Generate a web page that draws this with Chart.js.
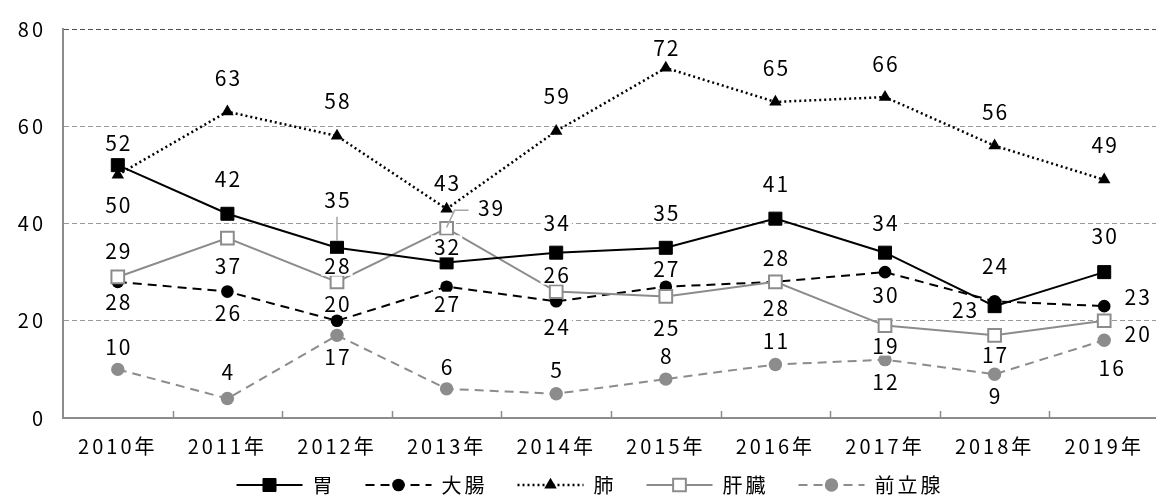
<!DOCTYPE html>
<html lang="ja">
<head>
<meta charset="utf-8">
<title>部位別</title>
<script src="https://cdn.jsdelivr.net/npm/chart.js@4.4.1/dist/chart.umd.min.js"></script>
<style>
  html, body { margin: 0; padding: 0; background: #fff; overflow: hidden; }
  #wrap { width: 1170px; height: 497px; }
</style>
</head>
<body>
<div id="wrap"><canvas id="bui-chart"></canvas></div>
<script>
// 年ごとの値
const years = ['2010年', '2011年', '2012年', '2013年', '2014年', '2015年', '2016年', '2017年', '2018年', '2019年'];
const stomach  = [52, 42, 35, 32, 34, 35, 41, 34, 23, 30];
const colon    = [28, 26, 20, 27, 24, 27, 28, 30, 24, 23];
const lung     = [50, 63, 58, 43, 59, 72, 65, 66, 56, 49];
const liver    = [29, 37, 28, 39, 26, 25, 28, 19, 17, 20];
const prostate = [10, 4, 17, 6, 5, 8, 11, 12, 9, 16];
const yTicks   = [0, 20, 40, 60, 80];

const FONT = '"Noto Sans CJK JP", "Noto Sans", sans-serif';
const GRAY = '#8c8c8c';

// ラベルの位置 (点からのずれ)
const labelOffsets = [
  [[0,-23],[0,-36],[0,-49],[0,-16],[0,-31],[0,-36],[0,-36],[0,-31],[-30,3],[0,-37]],
  [[0,19],[0,20],[0,-18],[0,16],[0,25],[0,-19],[0,25],[0,22],[0,-36],[33,-10]],
  [[0,29],[0,-35],[0,-36],[0,-27],[0,-36],[0,-21],[0,-35],[0,-34],[0,-35],[0,-36]],
  [[0,-27],[0,27],[0,-17],[44,-21],[0,-18],[0,31],[0,-25],[0,19],[0,19],[33,12]],
  [[0,-23],[0,-28],[0,21],[0,-23],[0,-25],[0,-24],[0,-24],[0,21],[0,21],[7,27]]
];
// 引き出し線 (データセット番号, 点番号, 折れ線の点)
const leaders = [
  { ds: 0, i: 2, path: [[0,-31],[0,-7]] },
  { ds: 3, i: 3, path: [[0,-1],[8,-18],[22,-18]] }
];

function drawMarker(ctx, style, x, y, r, fill, stroke, bw) {
  ctx.beginPath();
  if (style === 'rect') {
    const s = Math.SQRT1_2 * r;
    ctx.rect(x - s, y - s, 2 * s, 2 * s);
  } else if (style === 'triangle') {
    ctx.moveTo(x, y - r);
    ctx.lineTo(x + Math.sin(2 * Math.PI / 3) * r, y + r / 2);
    ctx.lineTo(x - Math.sin(2 * Math.PI / 3) * r, y + r / 2);
    ctx.closePath();
  } else {
    ctx.arc(x, y, r, 0, Math.PI * 2);
  }
  ctx.fillStyle = fill;
  ctx.fill();
  if (bw) { ctx.setLineDash([]); ctx.lineWidth = bw; ctx.strokeStyle = stroke; ctx.stroke(); }
}

const spacing = {
  id: 'spacing',
  beforeLayout(chart) { chart.ctx.letterSpacing = '3px'; },
  beforeDraw(chart) { chart.ctx.letterSpacing = '3px'; }
};

// 目盛り線 (内向き)
const innerTicks = {
  id: 'innerTicks',
  afterDraw(chart) {
    const { ctx, chartArea } = chart;
    const n = chart.data.labels.length;
    const step = (chartArea.right - chartArea.left) / n;
    ctx.save();
    ctx.strokeStyle = GRAY;
    ctx.lineWidth = 1.5;
    for (let i = 1; i < n; i++) {
      const x = Math.round(chartArea.left + i * step) + 0.5;
      ctx.beginPath();
      ctx.moveTo(x, chartArea.bottom);
      ctx.lineTo(x, chartArea.bottom - 7);
      ctx.stroke();
    }
    ctx.restore();
  }
};

const valueLabels = {
  id: 'valueLabels',
  afterDatasetsDraw(chart) {
    const ctx = chart.ctx;
    ctx.save();
    ctx.letterSpacing = '2px';
    ctx.font = '21px ' + FONT;
    ctx.textAlign = 'center';
    ctx.textBaseline = 'middle';

    ctx.strokeStyle = '#a6a6a6';
    ctx.lineWidth = 1.5;
    leaders.forEach(l => {
      const pt = chart.getDatasetMeta(l.ds).data[l.i];
      ctx.beginPath();
      l.path.forEach(([dx, dy], k) => {
        if (k === 0) ctx.moveTo(pt.x + dx, pt.y + dy);
        else ctx.lineTo(pt.x + dx, pt.y + dy);
      });
      ctx.stroke();
    });

    const items = [];
    chart.data.datasets.forEach((ds, di) => {
      chart.getDatasetMeta(di).data.forEach((pt, i) => {
        const [dx, dy] = labelOffsets[di][i];
        const text = String(ds.data[i]);
        items.push({ x: pt.x + dx, y: pt.y + dy, text, w: ctx.measureText(text).width });
      });
    });
    ctx.fillStyle = '#fff';
    items.forEach(it => ctx.fillRect(it.x - it.w / 2 - 2, it.y - 11, it.w + 4, 22));
    ctx.fillStyle = '#000';
    items.forEach(it => ctx.fillText(it.text, it.x + 1, it.y + 1));
    ctx.restore();
  }
};

// 凡例 (線と記号つき)
const lineLegend = {
  id: 'lineLegend',
  afterDraw(chart) {
    const ctx = chart.ctx;
    ctx.save();
    ctx.letterSpacing = '3px';
    ctx.font = '20px ' + FONT;
    ctx.textBaseline = 'middle';
    const sample = 66, gap = 10, between = 30;
    const ds = chart.data.datasets;
    const widths = ds.map(d => sample + gap + ctx.measureText(d.label).width);
    const total = widths.reduce((a, b) => a + b, 0) + between * (ds.length - 1);
    let x = chart.width / 2 + 5 - total / 2;
    const y = 485;
    ds.forEach((d, k) => {
      ctx.strokeStyle = d.borderColor;
      ctx.lineWidth = d.borderWidth;
      ctx.setLineDash(d.borderDash || []);
      ctx.beginPath();
      ctx.moveTo(x, y);
      ctx.lineTo(x + sample, y);
      ctx.stroke();
      drawMarker(ctx, d.pointStyle, x + sample / 2, y, d.pointRadius,
        d.pointBackgroundColor, d.pointBorderColor, d.pointBorderWidth);
      ctx.fillStyle = '#000';
      ctx.fillText(d.label, x + sample + gap, y);
      x += widths[k] + between;
    });
    ctx.restore();
  }
};

const ctx = document.getElementById('bui-chart').getContext('2d');

new Chart(ctx, {
  type: 'line',
  data: {
    labels: years,
    datasets: [
      {
        label: '胃', data: stomach, order: 1,
        borderColor: '#000', borderWidth: 2, borderDash: [],
        pointStyle: 'rect', pointRadius: 9.2, pointBackgroundColor: '#000',
        pointBorderColor: '#000', pointBorderWidth: 1
      },
      {
        label: '大腸', data: colon, order: 4,
        borderColor: '#000', borderWidth: 2, borderDash: [9, 6],
        pointStyle: 'circle', pointRadius: 6.3, pointBackgroundColor: '#000',
        pointBorderColor: '#000', pointBorderWidth: 0
      },
      {
        label: '肺', data: lung, order: 2,
        borderColor: '#000', borderWidth: 2.5, borderDash: [2, 3],
        pointStyle: 'triangle', pointRadius: 7.2, pointBackgroundColor: '#000',
        pointBorderColor: '#000', pointBorderWidth: 0
      },
      {
        label: '肝臓', data: liver, order: 3,
        borderColor: GRAY, borderWidth: 2, borderDash: [],
        pointStyle: 'rect', pointRadius: 9, pointBackgroundColor: '#fff',
        pointBorderColor: GRAY, pointBorderWidth: 2
      },
      {
        label: '前立腺', data: prostate, order: 5,
        borderColor: GRAY, borderWidth: 2, borderDash: [9, 6],
        pointStyle: 'circle', pointRadius: 6.7, pointBackgroundColor: GRAY,
        pointBorderColor: GRAY, pointBorderWidth: 0
      }
    ]
  },
  options: {
    responsive: true,
    maintainAspectRatio: false,
    animation: false,
    events: [],
    layout: { padding: { top: 25, right: 4, bottom: 30, left: 0 } },
    elements: { line: { tension: 0 } },
    plugins: {
      legend: { display: false },
      tooltip: { enabled: false }
    },
    scales: {
      x: {
        type: 'category',
        offset: true,
        afterFit(s) { s.height = 49; },
        grid: { display: true, drawOnChartArea: false, drawTicks: false },
        border: { display: true, color: GRAY, width: 2 },
        ticks: { color: '#000', padding: 16, maxRotation: 0, autoSkip: false, font: { family: FONT, size: 20 } }
      },
      y: {
        min: 0,
        max: 80,
        afterFit(s) { s.width = 63; },
        afterBuildTicks(s) { s.ticks = yTicks.map(v => ({ value: v })); },
        grid: {
          drawTicks: false,
          lineWidth: 1,
          color: c => (c.tick && c.tick.value === 80 ? '#505050' : '#9a9a9a')
        },
        border: { display: true, color: GRAY, width: 2, dash: [5, 3] },
        ticks: { color: '#000', padding: 17, font: { family: FONT, size: 20 } }
      }
    }
  },
  plugins: [spacing, innerTicks, valueLabels, lineLegend]
});
</script>
</body>
</html>
